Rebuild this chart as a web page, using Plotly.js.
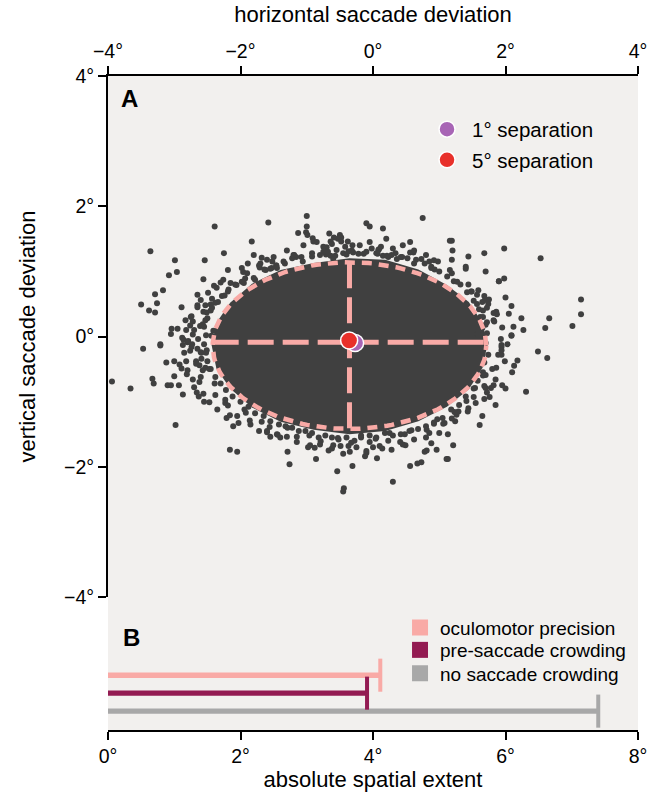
<!DOCTYPE html>
<html><head><meta charset="utf-8">
<script src="https://cdn.plot.ly/plotly-3.0.1.min.js"></script>
<style>html,body{margin:0;padding:0;background:#fff}#chart{width:653px;height:795px}</style>
</head><body><div id="chart"></div><script>
// ---------- Panel A data (degrees) ----------
// outline of the solid dense core of saccade endpoints
const coreOutlineX = [1.725,1.654,1.446,1.116,0.685,0.184,-0.355,-0.894,-1.395,-1.826,-2.156,-2.364,-2.435,-2.364,-2.156,-1.826,-1.395,-0.894,-0.355,0.184,0.685,1.116,1.446,1.654];
const coreOutlineY = [-0.14,0.207,0.53,0.79,1.03,1.18,1.20,1.13,1.02,0.81,0.52,0.21,-0.14,-0.49,-0.80,-1.09,-1.31,-1.43,-1.50,-1.45,-1.30,-1.08,-0.81,-0.48];
// individual saccade endpoints (fringe and outliers)
const saccadeX = [
-2.39,-1.58,-1.83,-3.36,-2.25,-1.80,-1.68,-1.60,-2.99,-2.54,-1.89,-1.72,-2.96,-3.08,-2.19,-1.98,-1.96,-1.71,-1.55,-1.46,-2.56,-3.17,-3.29,-2.49,-2.65,-2.40,-2.36,-2.30,-2.26,-1.93,-1.78,-3.50,-3.26,-3.38,-3.29,-2.89,-2.60,-2.65,-2.53,-2.45,-2.34,-2.24,-2.06,-2.83,-2.74,-2.72,-2.76,-2.57,-2.51,-2.61,-3.04,-2.95,-3.05,-2.88,-2.79,-2.72,-2.44,-2.41,-3.21,
-3.94,-3.66,-3.47,-3.21,-2.86,-2.80,-2.87,-2.73,-2.76,-2.65,-2.59,-2.51,-3.00,-3.12,-2.92,-2.89,-2.82,-2.67,-2.59,-2.62,-2.53,-2.47,-3.00,-2.81,-3.33,-3.31,-3.10,-3.05,-2.93,-2.72,-2.62,-2.87,-2.66,-2.63,-2.56,-2.47,-2.23,-2.98,-2.21,-2.16,-2.11,-2.03,-1.92,-1.72,-1.60,-1.55,-1.45,-2.16,-2.05,
-1.29,-1.26,-0.54,-0.31,-0.45,-0.44,0.30,-0.86,-0.95,-0.88,-0.67,-0.60,-0.49,-0.37,-0.35,-0.12,-0.10,0.06,0.14,-0.05,0.00,0.23,0.41,0.49,0.56,0.67,0.73,0.78,0.81,0.96,0.88,1.11,1.06,0.92,0.85,-1.30,-1.44,
2.09,1.94,1.94,1.94,2.49,2.63,2.18,2.13,1.80,1.95,2.31,1.82,1.78,1.70,1.68,1.76,1.55,1.43,1.29,1.26,1.24,1.61,1.08,1.13,1.21,1.13,1.66,1.70,1.54,1.41,
1.19,1.20,1.19,1.16,1.44,1.68,1.98,2.53,1.40,1.40,1.90,1.98,1.49,1.59,1.57,1.75,1.69,1.74,1.57,1.65,2.09,1.86,1.82,2.24,2.66,3.14,3.14,3.01,2.60,2.27,2.09,1.83,1.72,1.65,1.58,1.94,1.62,1.66,
-1.00,-1.00,-1.01,-0.99,-1.13,-0.91,-0.90,-0.10,-0.05,0.15,0.75,-0.66,-0.50,-0.53,-0.59,-0.64,-0.48,-0.42,-0.31,-0.30,-0.40,-0.02,0.09,0.07,0.56,0.56,0.61,0.34,0.36,0.23,0.73,0.92,0.88,1.16,-1.20,-1.16,-1.06,-0.70,-0.71,-0.64,-0.60,-1.46,-1.53,
-1.45,-1.35,-1.22,-1.08,-0.92,-0.80,-0.68,-0.55,-0.45,-0.32,-0.22,-0.10,0.05,0.15,0.28,0.42,0.52,0.65,0.78,0.88,1.00,1.12,1.22,-1.62,-1.80,-1.95,
1.32,1.42,1.52,1.60,1.66,1.70,1.72,1.70,1.74,1.68,1.66,1.58,1.52,1.40,1.30,1.18,
1.05,0.92,0.80,0.68,0.55,0.42,0.30,0.18,0.05,-0.05,-0.18,-0.28,-0.40,-0.52,-0.62,-0.72,-0.82,-0.92,-1.02,-1.12,-1.22,-1.32,-1.42,-1.55,-1.65,-1.78,-1.88,-2.00,
-2.12,-2.22,-2.30,-2.38,-2.45,-2.50,-2.52,-2.55,-2.52,-2.55,-2.50,-2.45,-2.38,-2.28,-2.18,-2.08,
1.93,1.82,1.72,1.48,1.27,0.93,0.62,0.21,-0.14,-0.57,-0.92,-1.33,-1.64,-1.98,-2.19,-2.43,-2.53,-2.64,-2.60,-2.57,-2.39,-2.23,-1.94,-1.68,-1.29,-0.96,-0.53,-0.18,0.25,0.58,0.97,1.23,1.52,1.68,1.86,1.89,
1.95,1.87,1.68,1.44,1.19,0.85,0.44,0.08,-0.37,-0.75,-1.19,-1.52,-1.90,-2.15,-2.43,-2.56,-2.70,-2.74,-2.67,-2.60,-2.38,-2.19,-1.86,-1.56,-1.15,-0.79,-0.33,0.04,0.48,0.81,1.19,1.44,1.72,1.85,1.99,2.03,
-1.05,-0.85,-0.75,-0.62,-0.38,-0.20,-0.05,0.12,0.30,0.45,0.62,0.80,0.98,-1.30,-1.50,-1.70,-0.48,0.20,
-1.15,-0.98,-0.80,-0.62,-0.45,-0.25,-0.10,0.10,0.28,0.45,0.62,0.80,1.00,-1.40,-1.60,-1.85,-2.05,
-2.65,-2.75,-2.82,-2.85,-2.80,-2.70,-2.55,-2.35,
2.00,2.05,2.12,2.10,2.00,1.85,1.65,1.90,1.70
];
const saccadeY = [
1.69,1.75,1.46,1.31,1.28,1.25,1.21,1.18,1.17,1.17,1.12,1.09,0.99,0.94,1.02,1.05,0.99,1.06,1.04,1.09,0.88,0.71,0.65,0.67,0.64,0.78,0.75,0.83,0.87,0.89,0.87,0.49,0.51,0.40,0.37,0.45,0.56,0.48,0.48,0.49,0.53,0.63,0.79,0.25,0.31,0.23,0.17,0.19,0.37,0.16,0.12,0.12,0.04,-0.02,-0.07,0.03,0.01,0.09,-0.12,
-0.69,-0.80,-0.19,-0.14,-0.05,-0.09,-0.13,-0.12,-0.22,-0.19,-0.25,-0.21,-0.38,-0.40,-0.43,-0.49,-0.38,-0.38,-0.34,-0.44,-0.48,-0.50,-0.61,-0.58,-0.65,-0.72,-0.75,-0.75,-0.75,-0.66,-0.70,-0.89,-0.86,-0.92,-0.88,-1.01,-1.02,-1.36,-1.25,-1.21,-1.38,-1.33,-1.17,-1.45,-1.47,-1.54,-1.50,-1.74,-1.77,
-1.77,-1.96,-2.07,-1.99,-2.38,-2.33,-2.23,-1.88,-1.67,-1.71,-1.75,-1.67,-1.68,-1.68,-1.77,-1.84,-1.79,-1.87,-1.72,-1.62,-1.70,-1.60,-1.62,-1.67,-1.99,-1.95,-1.93,-1.77,-1.75,-1.74,-1.64,-1.88,-1.34,-1.34,-1.48,-1.54,-1.51,
0.01,-0.16,-0.21,-0.28,-0.23,-0.33,-0.37,-0.45,-0.50,-0.75,-0.85,-0.75,-0.79,-0.79,-0.96,-0.93,-1.02,-1.15,-1.15,-1.20,-1.30,-1.36,-1.33,-1.50,-1.67,-1.88,-0.60,-0.59,-0.79,-0.99,
1.47,1.32,1.18,1.02,1.23,1.28,1.35,1.20,1.07,1.04,0.85,0.89,0.69,0.71,0.64,0.57,0.56,0.50,0.50,0.53,0.47,0.38,0.36,0.28,0.28,0.57,0.34,0.16,0.13,0.10,0.02,0.23,0.22,0.13,0.04,-0.13,0.30,0.40,
1.85,1.69,1.60,1.56,1.59,1.51,1.46,1.74,1.69,1.66,1.82,1.58,1.56,1.50,1.52,1.46,1.46,1.38,1.40,1.29,1.26,1.35,1.34,1.27,1.45,1.29,1.29,1.28,1.19,1.22,1.19,1.17,1.07,1.47,1.25,1.22,1.15,1.37,1.26,1.24,1.19,1.09,1.05,
1.05,1.15,1.20,1.22,1.28,1.25,1.30,1.33,1.28,1.32,1.27,1.30,1.28,1.24,1.25,1.22,1.20,1.18,1.12,1.05,1.00,0.92,0.85,1.02,0.90,0.82,
0.80,0.68,0.55,0.42,0.30,0.18,0.05,-0.10,-0.28,-0.40,-0.55,-0.68,-0.80,-0.92,-1.05,-1.12,
-1.25,-1.32,-1.38,-1.42,-1.45,-1.50,-1.52,-1.48,-1.55,-1.52,-1.55,-1.60,-1.55,-1.58,-1.55,-1.52,-1.55,-1.48,-1.45,-1.45,-1.40,-1.38,-1.35,-1.30,-1.22,-1.18,-1.08,-1.00,
-0.92,-0.82,-0.72,-0.62,-0.50,-0.38,-0.25,-0.12,0.02,0.15,0.28,0.40,0.52,0.62,0.72,0.80,
-0.04,0.25,0.44,0.69,0.84,1.03,1.12,1.24,1.27,1.24,1.23,1.12,1.03,0.84,0.69,0.44,0.25,-0.04,-0.24,-0.52,-0.72,-0.97,-1.12,-1.31,-1.40,-1.52,-1.56,-1.52,-1.48,-1.44,-1.27,-1.16,-0.93,-0.76,-0.48,-0.28,
0.14,0.34,0.62,0.80,0.97,1.15,1.22,1.33,1.31,1.30,1.25,1.15,0.97,0.82,0.58,0.38,0.10,-0.16,-0.42,-0.62,-0.90,-1.06,-1.29,-1.39,-1.54,-1.61,-1.63,-1.57,-1.50,-1.43,-1.26,-1.10,-0.86,-0.66,-0.38,-0.12,
1.40,1.45,1.38,1.42,1.46,1.40,1.45,1.38,1.35,1.40,1.32,1.25,1.15,1.32,1.22,1.12,1.52,1.50,
-1.62,-1.70,-1.66,-1.72,-1.80,-1.70,-1.76,-1.68,-1.74,-1.66,-1.58,-1.55,-1.48,-1.55,-1.45,-1.35,-1.22,
0.45,0.30,0.10,-0.25,-0.52,-0.78,-1.00,-1.12,
0.60,0.35,0.15,-0.55,-0.80,-1.05,-1.22,0.85,1.00
];
// mean landing positions
const separationLabels = ['1° separation', '5° separation'];
const separationMeanX = [-0.27, -0.36];
const separationMeanY = [-0.10, -0.06];
const separationColors = ['#a865b5', '#e8302a'];
// oculomotor precision ellipse
const ellipseCenterX = -0.355, ellipseCenterY = -0.14;
const ellipseRadiusX = 2.065, ellipseRadiusY = 1.28;
const crossY = -0.09;
// ---------- Panel B data ----------
const extentLabels = ['oculomotor precision', 'pre-saccade crowding', 'no saccade crowding'];
const extentValues = [4.11, 3.91, 7.40];
const extentRows = [3, 2, 1];
const extentColors = ['#f9aaa6', '#931b52', '#a8a8a8'];
// ticks
const tickValsA = [-4, -2, 0, 2, 4];
const tickTextA = ['−4°', '−2°', '0°', '2°', '4°'];
const tickValsB = [0, 2, 4, 6, 8];
const tickTextB = ['0°', '2°', '4°', '6°', '8°'];

const FONT = 'Liberation Sans, Arial, Helvetica, sans-serif';
const pink = '#f9aaa6';
const traces = [];
traces.push({type:'scatter', mode:'lines', x: coreOutlineX.concat([coreOutlineX[0]]), y: coreOutlineY.concat([coreOutlineY[0]]),
  fill:'toself', fillcolor:'#404040', line:{width:0, color:'#404040'}, showlegend:false, hoverinfo:'skip', xaxis:'x', yaxis:'y'});
traces.push({type:'scatter', mode:'markers', x: saccadeX, y: saccadeY, marker:{size:6, color:'#404040'},
  showlegend:false, hoverinfo:'skip', xaxis:'x', yaxis:'y'});
// ellipse outline from its centre and radii
const ex = [], ey = [];
for (let i = 0; i <= 180; i++) {
  const t = 2 * Math.PI * i / 180;
  ex.push(ellipseCenterX + ellipseRadiusX * Math.cos(t));
  ey.push(ellipseCenterY + ellipseRadiusY * Math.sin(t));
}
traces.push({type:'scatter', mode:'lines', x: ex, y: ey, line:{color:pink, width:4.5, dash:'10px,7px'}, showlegend:false, hoverinfo:'skip'});
traces.push({type:'scatter', mode:'lines', x:[ellipseCenterX - ellipseRadiusX, ellipseCenterX + ellipseRadiusX], y:[crossY, crossY],
  line:{color:pink, width:5, dash:'26px,9px'}, showlegend:false, hoverinfo:'skip'});
traces.push({type:'scatter', mode:'lines', x:[ellipseCenterX, ellipseCenterX], y:[ellipseCenterY + ellipseRadiusY, ellipseCenterY - ellipseRadiusY],
  line:{color:pink, width:5, dash:'26px,9px'}, showlegend:false, hoverinfo:'skip'});
const legendA = ['legend', 'legend2'];
for (let i = 0; i < separationLabels.length; i++) {
  traces.push({type:'scatter', mode:'markers', name: separationLabels[i], x:[separationMeanX[i]], y:[separationMeanY[i]],
    marker:{size:17, color: separationColors[i], line:{color:'#ffffff', width:1.5}}, legend: legendA[i], hoverinfo:'skip'});
}
// Panel B
const legendB = ['legend3', 'legend4', 'legend5'];
for (let i = 0; i < extentLabels.length; i++) {
  traces.push({type:'bar', orientation:'h', name: extentLabels[i], x:[extentValues[i]], y:[extentRows[i]], width:0.3,
    marker:{color: extentColors[i], line:{width:0}}, xaxis:'x2', yaxis:'y2', showlegend:false, hoverinfo:'skip'});
  traces.push({type:'scatter', mode:'lines', x:[extentValues[i], extentValues[i]], y:[extentRows[i] - 0.92, extentRows[i] + 0.92],
    line:{color: extentColors[i], width:4}, xaxis:'x2', yaxis:'y2', showlegend:false, hoverinfo:'skip'});
  // legend swatch for the bar
  traces.push({type:'scatter', mode:'markers', name: extentLabels[i], x:[null], y:[null],
    marker:{symbol:'square', size:16, color: extentColors[i]}, xaxis:'x2', yaxis:'y2', legend: legendB[i], hoverinfo:'skip'});
}

const axisCommon = {showline:true, linewidth:2, linecolor:'#000', ticks:'outside', ticklen:8, tickwidth:2, tickcolor:'#000',
  showgrid:false, zeroline:false, tickfont:{family:FONT, size:19.5, color:'#000'}, automargin:false, fixedrange:true};
const domSplit = 133 / 654;
const legendBase = {xanchor:'left', yanchor:'middle', bgcolor:'rgba(0,0,0,0)', borderwidth:0};
function legendAt(x, y, size, itemwidth) {
  return Object.assign({}, legendBase, {x:x, y:y, itemwidth:itemwidth, font:{family:FONT, size:size, color:'#000'}});
}
const layout = {
  width:653, height:795,
  margin:{l:108, r:15, t:76, b:65, pad:0},
  paper_bgcolor:'#ffffff', plot_bgcolor:'#f2f0ee',
  font:{family:FONT, color:'#000'},
  barmode:'overlay',
  xaxis: Object.assign({}, axisCommon, {range:[-4,4], side:'top', anchor:'y', tickvals:tickValsA, ticktext:tickTextA,
    title:{text:'horizontal saccade deviation', font:{family:FONT, size:22, color:'#000'}, standoff:12}}),
  yaxis: Object.assign({}, axisCommon, {range:[-4,4], domain:[domSplit, 1], anchor:'x', tickvals:tickValsA, ticktext:tickTextA,
    title:{text:'vertical saccade deviation', font:{family:FONT, size:22, color:'#000'}, standoff:22}}),
  xaxis2: Object.assign({}, axisCommon, {range:[0,8], anchor:'y2', side:'bottom', tickvals:tickValsB, ticktext:tickTextB,
    title:{text:'absolute spatial extent', font:{family:FONT, size:22, color:'#000'}, standoff:5}}),
  yaxis2: {range:[-0.05, 7.35], domain:[0, domSplit], anchor:'x2', visible:false, fixedrange:true},
  legend:  legendAt(0.5925, 0.9185, 20.5, 40),
  legend2: legendAt(0.5925, 0.8716, 20.5, 40),
  legend3: legendAt(0.551, 0.1564, 19, 30),
  legend4: legendAt(0.551, 0.1223, 19, 30),
  legend5: legendAt(0.551, 0.0867, 19, 30),
  annotations: [
    {text:'<b>A</b>', x:-3.67, y:3.66, xref:'x', yref:'y', showarrow:false, xanchor:'center', yanchor:'middle', font:{family:FONT, size:24, color:'#000'}},
    {text:'<b>B</b>', x:0.36, y:5.07, xref:'x2', yref:'y2', showarrow:false, xanchor:'center', yanchor:'middle', font:{family:FONT, size:24, color:'#000'}}
  ],
  showlegend:true
};
Plotly.newPlot('chart', traces, layout, {displayModeBar:false, staticPlot:true});
</script></body></html>
